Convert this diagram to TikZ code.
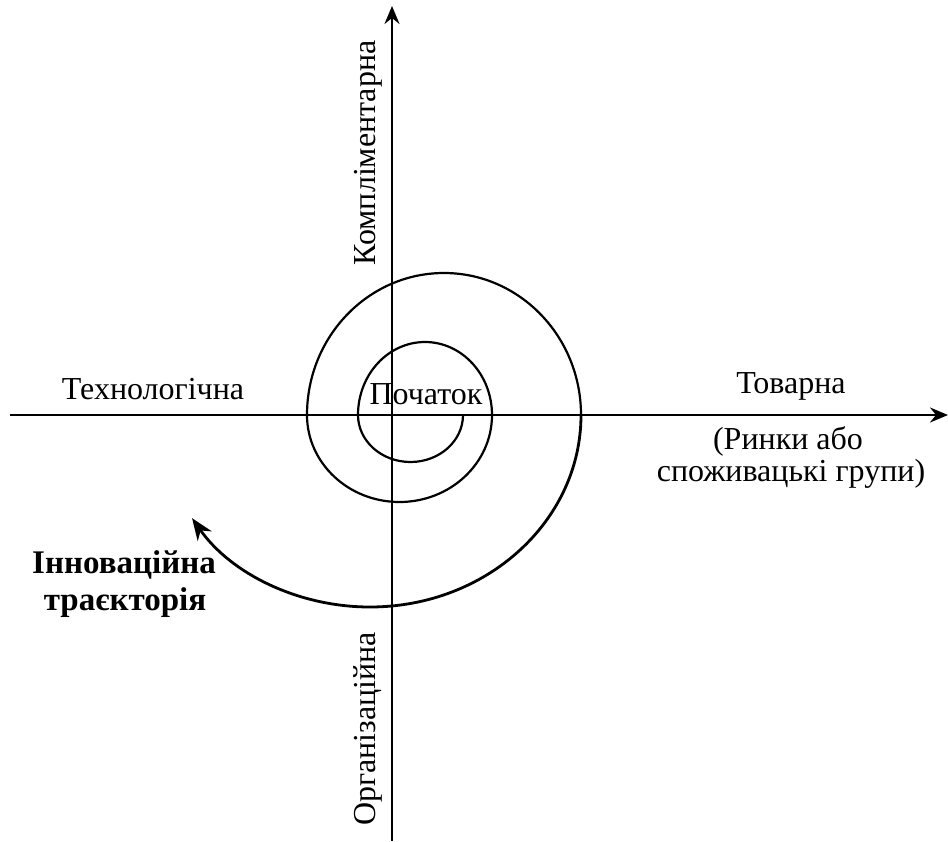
\documentclass[tikz,border=0pt]{standalone}
\usepackage{fontspec}
\setmainfont{Liberation Serif}
\usetikzlibrary{arrows.meta}

\begin{document}
\begin{tikzpicture}[x=1pt,y=1pt,
  axis/.style={line width=2.6pt, -{Stealth[length=18pt,width=15pt,inset=6pt]}},
  spiral/.style={line width=2.2pt},
  trajectory/.style={line width=2.8pt, -{Stealth[length=22pt,width=17pt,inset=7pt]}},
  lbl/.style={inner sep=0pt, anchor=base, font=\fontsize{32}{36}\selectfont},
  boldlbl/.style={inner sep=0pt, anchor=base, font=\bfseries\fontsize{33}{38}\selectfont}]

  \useasboundingbox (0,0) rectangle (948,-841);

  % axes
  \coordinate (xl) at (10,-415);
  \coordinate (xr) at (948,-415);
  \coordinate (yb) at (392,-841);
  \coordinate (yt) at (392,-6);
  \draw[axis] (xl) -- (xr);
  \draw[axis] (yb) -- (yt);

  % spiral made of alternating half-ellipses
  \coordinate (s0) at (463,-415);
  \draw[spiral] (s0)
    arc[start angle=0,   end angle=-180, x radius=52.5, y radius=47]
    arc[start angle=180, end angle=0,    x radius=67,   y radius=73]
    arc[start angle=0,   end angle=-180, x radius=92.5, y radius=87]
    arc[start angle=180, end angle=0,    x radius=137,  y radius=142] coordinate (s4);
  \draw[trajectory] (s4)
    arc[start angle=0, end angle=-147.5, x radius=211, y radius=192];

  % labels
  \node[lbl] (start) at (426,-404) {Початок};
  \node[lbl] (tech) at (153,-399) {Технологічна};
  \node[lbl] (goods) at (791,-393) {Товарна};
  \node[lbl] (goods2) at (788,-449) {(Ринки або};
  \node[lbl] (goods3) at (791,-481) {споживацькі групи)};
  \node[lbl, rotate=90] (compl) at (375,-153) {Компліментарна};
  \node[lbl, rotate=90] (org) at (375,-729) {Організаційна};
  \node[boldlbl] (innov) at (124,-573) {Інноваційна};
  \node[boldlbl] (traj) at (125,-610) {траєкторія};
\end{tikzpicture}
\end{document}
